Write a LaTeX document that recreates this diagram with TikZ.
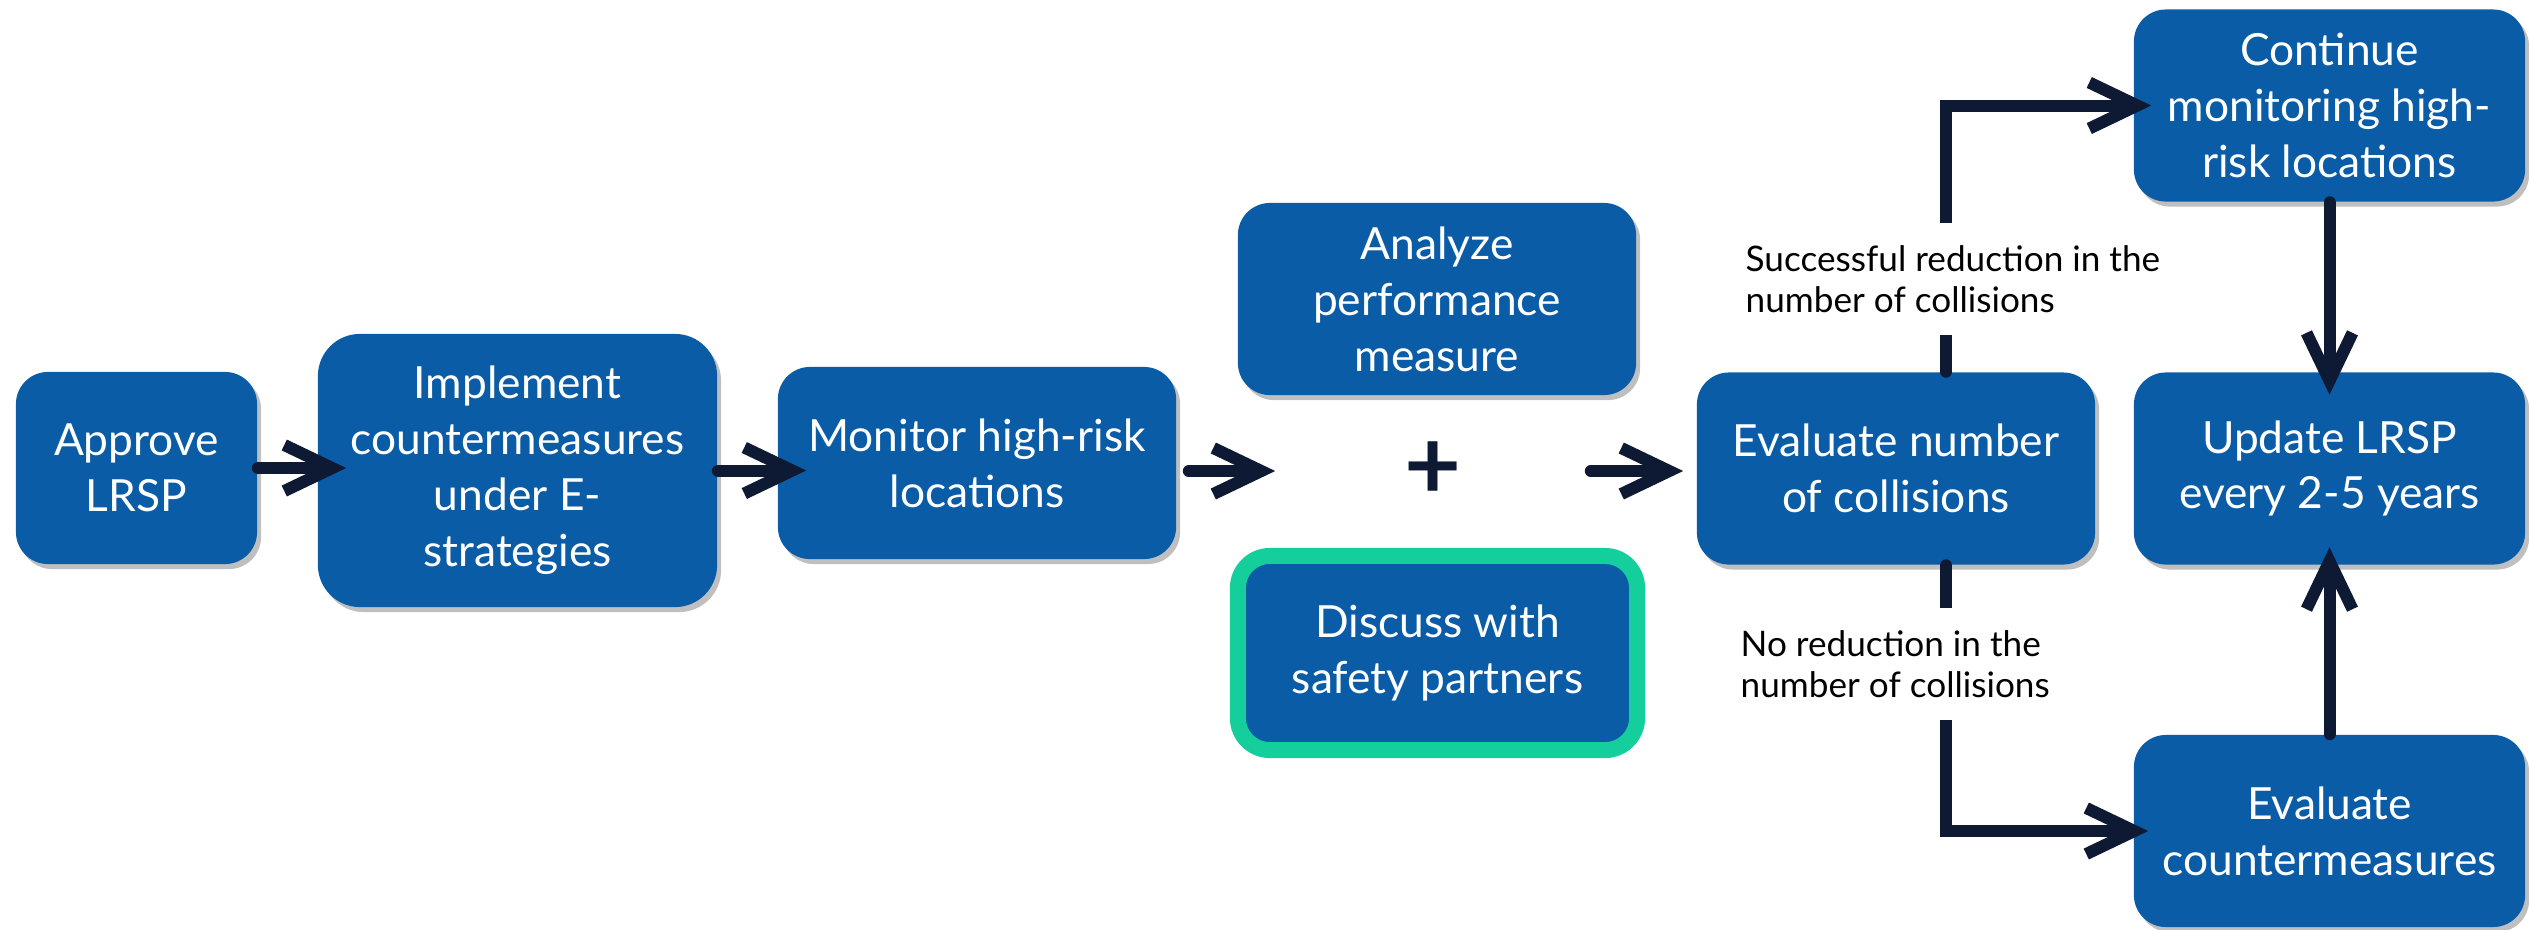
\documentclass[tikz,border=0pt]{standalone}
\usepackage{fontspec}
\setmainfont{Lato}
\usepackage{tikz}
\usetikzlibrary{arrows.meta}
\usetikzlibrary{shadows}
\definecolor{boxblue}{HTML}{0B5CA7}
\definecolor{arrowc}{HTML}{0E1A33}
\definecolor{partner}{HTML}{14CF9C}
\tikzset{task/.style={rectangle,rounded corners=0.32cm,fill=boxblue,text=white,align=center,inner sep=0pt,minimum width=3.98cm,minimum height=1.92cm,font=\fontsize{12.6}{15.9}\selectfont,drop shadow={shadow xshift=0.04cm,shadow yshift=-0.05cm,opacity=0.25,fill=black}}}
\tikzset{flow/.style={line width=0.12cm,draw=arrowc,line cap=round,-{Straight Barb[length=0.48cm,width=0.46cm,line join=miter]}}}
\tikzset{note/.style={fill=white,align=left,inner xsep=0pt,inner ysep=0pt,minimum height=1.12cm,font=\fontsize{10}{11.7}\selectfont}}
\tikzset{plus/.style={inner sep=0pt,minimum width=3.14cm,text=arrowc,font=\fontsize{28}{30}\selectfont\bfseries}}

\begin{document}
\begin{tikzpicture}[x=0.01cm,y=-0.01cm]
\useasboundingbox (0,0) rectangle (2529,929);
% left part of the chain
\node[task,minimum width=2.41cm] (Appr) at (136.5,468) {Approve\\LRSP};
\node[task,minimum width=3.99cm,minimum height=2.73cm,rounded corners=0.42cm] (Impl) at (517.5,470.5) {Implement\\countermeasures\\under E-\\strategies};
\node[task] (Mon) at (977,463) {Monitor high-risk\\locations};
\node[task] (Anal) at (1437,299) {Analyze\\performance\\measure};
\node[task,draw=partner,line width=0.16cm,minimum width=3.99cm,minimum height=1.94cm] (Disc) at (1437.5,653) {Discuss with\\safety partners};
\node[plus] (Plus) at (1433,471) {+};
\node[task] (EvalN) at (1896,468.5) {Evaluate number\\of collisions};
% right column
\foreach \n/\y/\t in {Cont/105.5/{Continue\\monitoring high-\\risk locations},Upd/468.5/{Update LRSP\\every 2-5 years},EvalC/831/{Evaluate\\countermeasures}} {
	\node[task,minimum width=3.91cm] (\n) at (2329.5,\y) {\t};
}
\draw[flow,shorten >=-0.29cm] (Appr.east) -- (Appr.east -| Impl.west);
\draw[flow,shorten >=-0.29cm] (Impl.east) -- (Impl.east -| Mon.west);
\draw[flow,shorten <=0.12cm] (Plus.west -| Mon.east) -- (Plus.west);
\draw[flow,shorten >=0.13cm] (Plus.east) -- (Plus.east -| EvalN.west);
\draw[flow,shorten >=-0.18cm] ([xshift=0.5cm]EvalN.north) |- (Cont.west);
\draw[flow,shorten >=-0.15cm] ([xshift=0.5cm]EvalN.south) |- (EvalC.west);
\draw[flow,shorten >=-0.23cm] (Cont.south) -- (Upd.north);
\draw[flow,shorten >=-0.18cm] (EvalC.north) -- (Upd.south);
% labels on the two branches
\node[note,anchor=west] (Yes) at (1745,279) {Successful reduction in the\\number of collisions};
\node[note,anchor=west] (No) at (1740,664) {No reduction in the\\number of collisions};
\end{tikzpicture}
\end{document}
